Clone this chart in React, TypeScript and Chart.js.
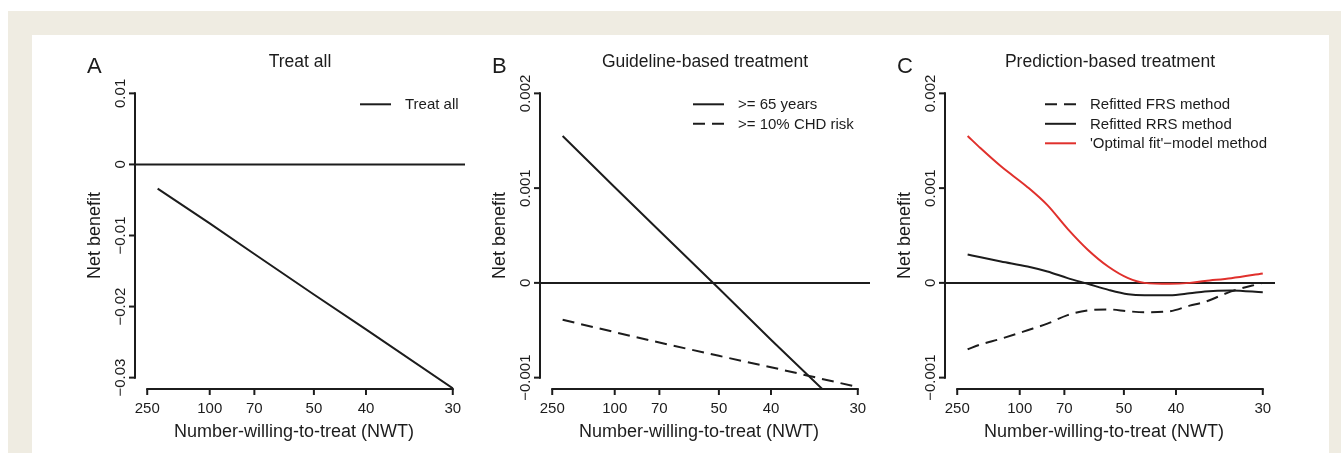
import React, { useEffect, useRef } from "react";
import { Chart, registerables } from "chart.js";

Chart.register(...registerables);

// ---------- data ----------
const nwtTicks = [250, 100, 70, 50, 40, 30];
const nwtTickLabels = ["250", "100", "70", "50", "40", "30"];

// Panel A: treat all
const treatAllNwt = [200, 100, 70, 50, 40, 30];
const treatAllValues = [-0.0034, -0.0083, -0.0126, -0.0183, -0.0232, -0.0315];
const panelAYTicks = [0.01, 0, -0.01, -0.02, -0.03];
const panelAYTickLabels = ["0.01", "0", "\u22120.01", "\u22120.02", "\u22120.03"];

// Panel B: guideline-based treatment
const guidelineNwt = [200, 100, 70, 50, 40, 30];
const age65Values = [0.00155, 0.00101, 0.00055, -0.00006, -0.0006, -0.00148];
const chd10Values = [-0.00039, -0.00052, -0.00063, -0.00077, -0.00089, -0.0011];

// Panel C: prediction-based treatment
const predictionNwt = [200, 160, 122, 93, 79, 68.5, 60.5, 54, 49, 45.5, 41, 38, 36, 33, 30];
const frsValues = [-0.0007, -0.00065, -0.00059, -0.0005, -0.00043, -0.00034, -0.00029, -0.00028, -0.0003, -0.00031, -0.0003, -0.00024, -0.0002, -0.00009, 0.0];
const rrsValues = [0.0003, 0.00027, 0.000226, 0.000173, 0.00012, 0.00005, -0.00001, -0.000074, -0.00012, -0.00013, -0.00013, -0.00011, -0.00009, -0.00008, -0.0001];
const optimalValues = [0.00155, 0.00142, 0.00123, 0.00101, 0.00082, 0.00057, 0.00035, 0.00017, 0.00005, 0.0, -0.00001, 0.0, 0.00002, 0.00005, 0.0001];

const panelBCYTicks = [0.002, 0.001, 0, -0.001];
const panelBCYTickLabels = ["0.002", "0.001", "0", "\u22120.001"];

// ---------- styles ----------
const INK = "#1c1c1c";
const RED = "#e0302c";
const BEIGE = "#efece2";
const FONT = '"Liberation Sans", Arial, Helvetica, sans-serif';
const DASH = [12, 7];

// R-style 4% range extension
const X_LO = 1 / 250;
const X_HI = 1 / 30;
const X_MIN = X_LO - 0.04 * (X_HI - X_LO);
const X_MAX = X_HI + 0.04 * (X_HI - X_LO);

type Series = {
  label: string;
  nwt: number[];
  values: number[];
  color: string;
  dash: number[];
  smooth: boolean;
};

type PanelDef = {
  letter: string;
  title: string;
  yTicks: number[];
  yTickLabels: string[];
  series: Series[];
  legendTextOffset: number;
};

const panels: PanelDef[] = [
  {
    letter: "A",
    title: "Treat all",
    yTicks: panelAYTicks,
    yTickLabels: panelAYTickLabels,
    legendTextOffset: 270,
    series: [
      { label: "Treat all", nwt: treatAllNwt, values: treatAllValues, color: INK, dash: [], smooth: false },
    ],
  },
  {
    letter: "B",
    title: "Guideline-based treatment",
    yTicks: panelBCYTicks,
    yTickLabels: panelBCYTickLabels,
    legendTextOffset: 198,
    series: [
      { label: ">= 65 years", nwt: guidelineNwt, values: age65Values, color: INK, dash: [], smooth: false },
      { label: ">= 10% CHD risk", nwt: guidelineNwt, values: chd10Values, color: INK, dash: DASH, smooth: false },
    ],
  },
  {
    letter: "C",
    title: "Prediction-based treatment",
    yTicks: panelBCYTicks,
    yTickLabels: panelBCYTickLabels,
    legendTextOffset: 145,
    series: [
      { label: "Refitted FRS method", nwt: predictionNwt, values: frsValues, color: INK, dash: DASH, smooth: true },
      { label: "Refitted RRS method", nwt: predictionNwt, values: rrsValues, color: INK, dash: [], smooth: true },
      { label: "'Optimal fit'\u2212model method", nwt: predictionNwt, values: optimalValues, color: RED, dash: [], smooth: true },
    ],
  },
];

const rAxesPlugin = {
  id: "rAxes",
  beforeDatasetsDraw(chart: any) {
    const { ctx, chartArea: ca, scales } = chart;
    const y0 = scales.y.getPixelForValue(0);
    ctx.save();
    ctx.strokeStyle = INK;
    ctx.lineWidth = 2;
    ctx.beginPath();
    ctx.moveTo(ca.left, y0);
    ctx.lineTo(ca.right, y0);
    ctx.stroke();
    ctx.restore();
  },
  afterDatasetsDraw(chart: any, _args: any, opts: any) {
    const panel: PanelDef = opts.panel;
    const { ctx, chartArea: ca, scales } = chart;
    const xs = scales.x;
    const ys = scales.y;
    ctx.save();
    ctx.strokeStyle = INK;
    ctx.fillStyle = INK;
    ctx.lineWidth = 2;
    ctx.lineCap = "butt";
    const seg = (x1: number, y1: number, x2: number, y2: number) => {
      ctx.beginPath();
      ctx.moveTo(x1, y1);
      ctx.lineTo(x2, y2);
      ctx.stroke();
    };

    // y axis
    const yt = panel.yTicks.map((v) => ys.getPixelForValue(v));
    seg(ca.left, Math.min(...yt) - 1, ca.left, Math.max(...yt) + 1);
    yt.forEach((py) => seg(ca.left - 6, py, ca.left, py));
    ctx.font = `15px ${FONT}`;
    ctx.textAlign = "center";
    ctx.textBaseline = "alphabetic";
    yt.forEach((py, i) => {
      ctx.save();
      ctx.translate(ca.left - 10, py);
      ctx.rotate(-Math.PI / 2);
      ctx.fillText(panel.yTickLabels[i], 0, 0);
      ctx.restore();
    });

    // x axis
    const xt = nwtTicks.map((n) => xs.getPixelForValue(1 / n));
    seg(Math.min(...xt) - 1, ca.bottom, Math.max(...xt) + 1, ca.bottom);
    xt.forEach((px) => seg(px, ca.bottom, px, ca.bottom + 6));
    xt.forEach((px, i) => ctx.fillText(nwtTickLabels[i], px, ca.bottom + 24));

    // axis titles
    ctx.font = `18px ${FONT}`;
    const cx = (ca.left + ca.right) / 2;
    ctx.fillText("Number-willing-to-treat (NWT)", cx - 6, ca.bottom + 48);
    ctx.save();
    ctx.translate(ca.left - 35, (ca.top + ca.bottom) / 2);
    ctx.rotate(-Math.PI / 2);
    ctx.fillText("Net benefit", 0, 0);
    ctx.restore();

    // title and letter
    ctx.font = `17.5px ${FONT}`;
    ctx.fillText(panel.title, cx, ca.top - 15);
    ctx.font = `22px ${FONT}`;
    ctx.textAlign = "left";
    ctx.fillText(panel.letter, ca.left - 48, ca.top - 9.5);

    // legend
    ctx.font = `15px ${FONT}`;
    const tx = ca.left + panel.legendTextOffset;
    panel.series.forEach((s, i) => {
      const ry = ca.top + 22.3 + 19.5 * i;
      ctx.save();
      ctx.strokeStyle = s.color;
      ctx.setLineDash(s.dash);
      seg(tx - 45, ry, tx - 14, ry);
      ctx.restore();
      ctx.textBaseline = "middle";
      ctx.fillText(s.label, tx, ry + 1);
    });
    ctx.restore();
  },
};

function PanelChart({ panel, left }: { panel: PanelDef; left: number }) {
  const ref = useRef<HTMLCanvasElement | null>(null);
  useEffect(() => {
    const yLo = panel.yTicks[panel.yTicks.length - 1];
    const yHi = panel.yTicks[0];
    const ext = 0.04 * (yHi - yLo);
    const chart = new Chart(ref.current as HTMLCanvasElement, {
      type: "line",
      data: {
        datasets: panel.series.map((s) => ({
          label: s.label,
          data: s.nwt.map((n, i) => ({ x: 1 / n, y: s.values[i] })),
          borderColor: s.color,
          borderWidth: 2,
          borderDash: s.dash,
          pointRadius: 0,
          fill: false,
          tension: s.smooth ? 0.4 : 0,
          cubicInterpolationMode: s.smooth ? "monotone" : "default",
        })),
      },
      options: {
        animation: false,
        responsive: false,
        maintainAspectRatio: false,
        devicePixelRatio: 1,
        events: [],
        layout: { padding: { left: 95, right: 5, top: 47, bottom: 64 } },
        scales: {
          x: { type: "linear", min: X_MIN, max: X_MAX, display: false },
          y: { type: "linear", min: yLo - ext, max: yHi + ext, display: false },
        },
        plugins: {
          legend: { display: false },
          tooltip: { enabled: false },
          rAxes: { panel },
        } as any,
      },
      plugins: [rAxesPlugin],
    } as any);
    return () => chart.destroy();
  }, [panel]);
  return (
    <canvas
      ref={ref}
      width={430}
      height={418}
      style={{ position: "absolute", left, top: 35, width: 430, height: 418 }}
    />
  );
}

export default function App() {
  return (
    <div
      style={{
        position: "fixed",
        left: 0,
        top: 0,
        width: 1341,
        height: 453,
        background: "#ffffff",
        overflow: "hidden",
      }}
    >
      <div style={{ position: "absolute", left: 8, top: 11, width: 1333, height: 442, background: BEIGE }} />
      <div style={{ position: "absolute", left: 32, top: 35, width: 1297, height: 418, background: "#ffffff" }} />
      {panels.map((p, i) => (
        <PanelChart key={p.letter} panel={p} left={40 + 405 * i} />
      ))}
    </div>
  );
}
